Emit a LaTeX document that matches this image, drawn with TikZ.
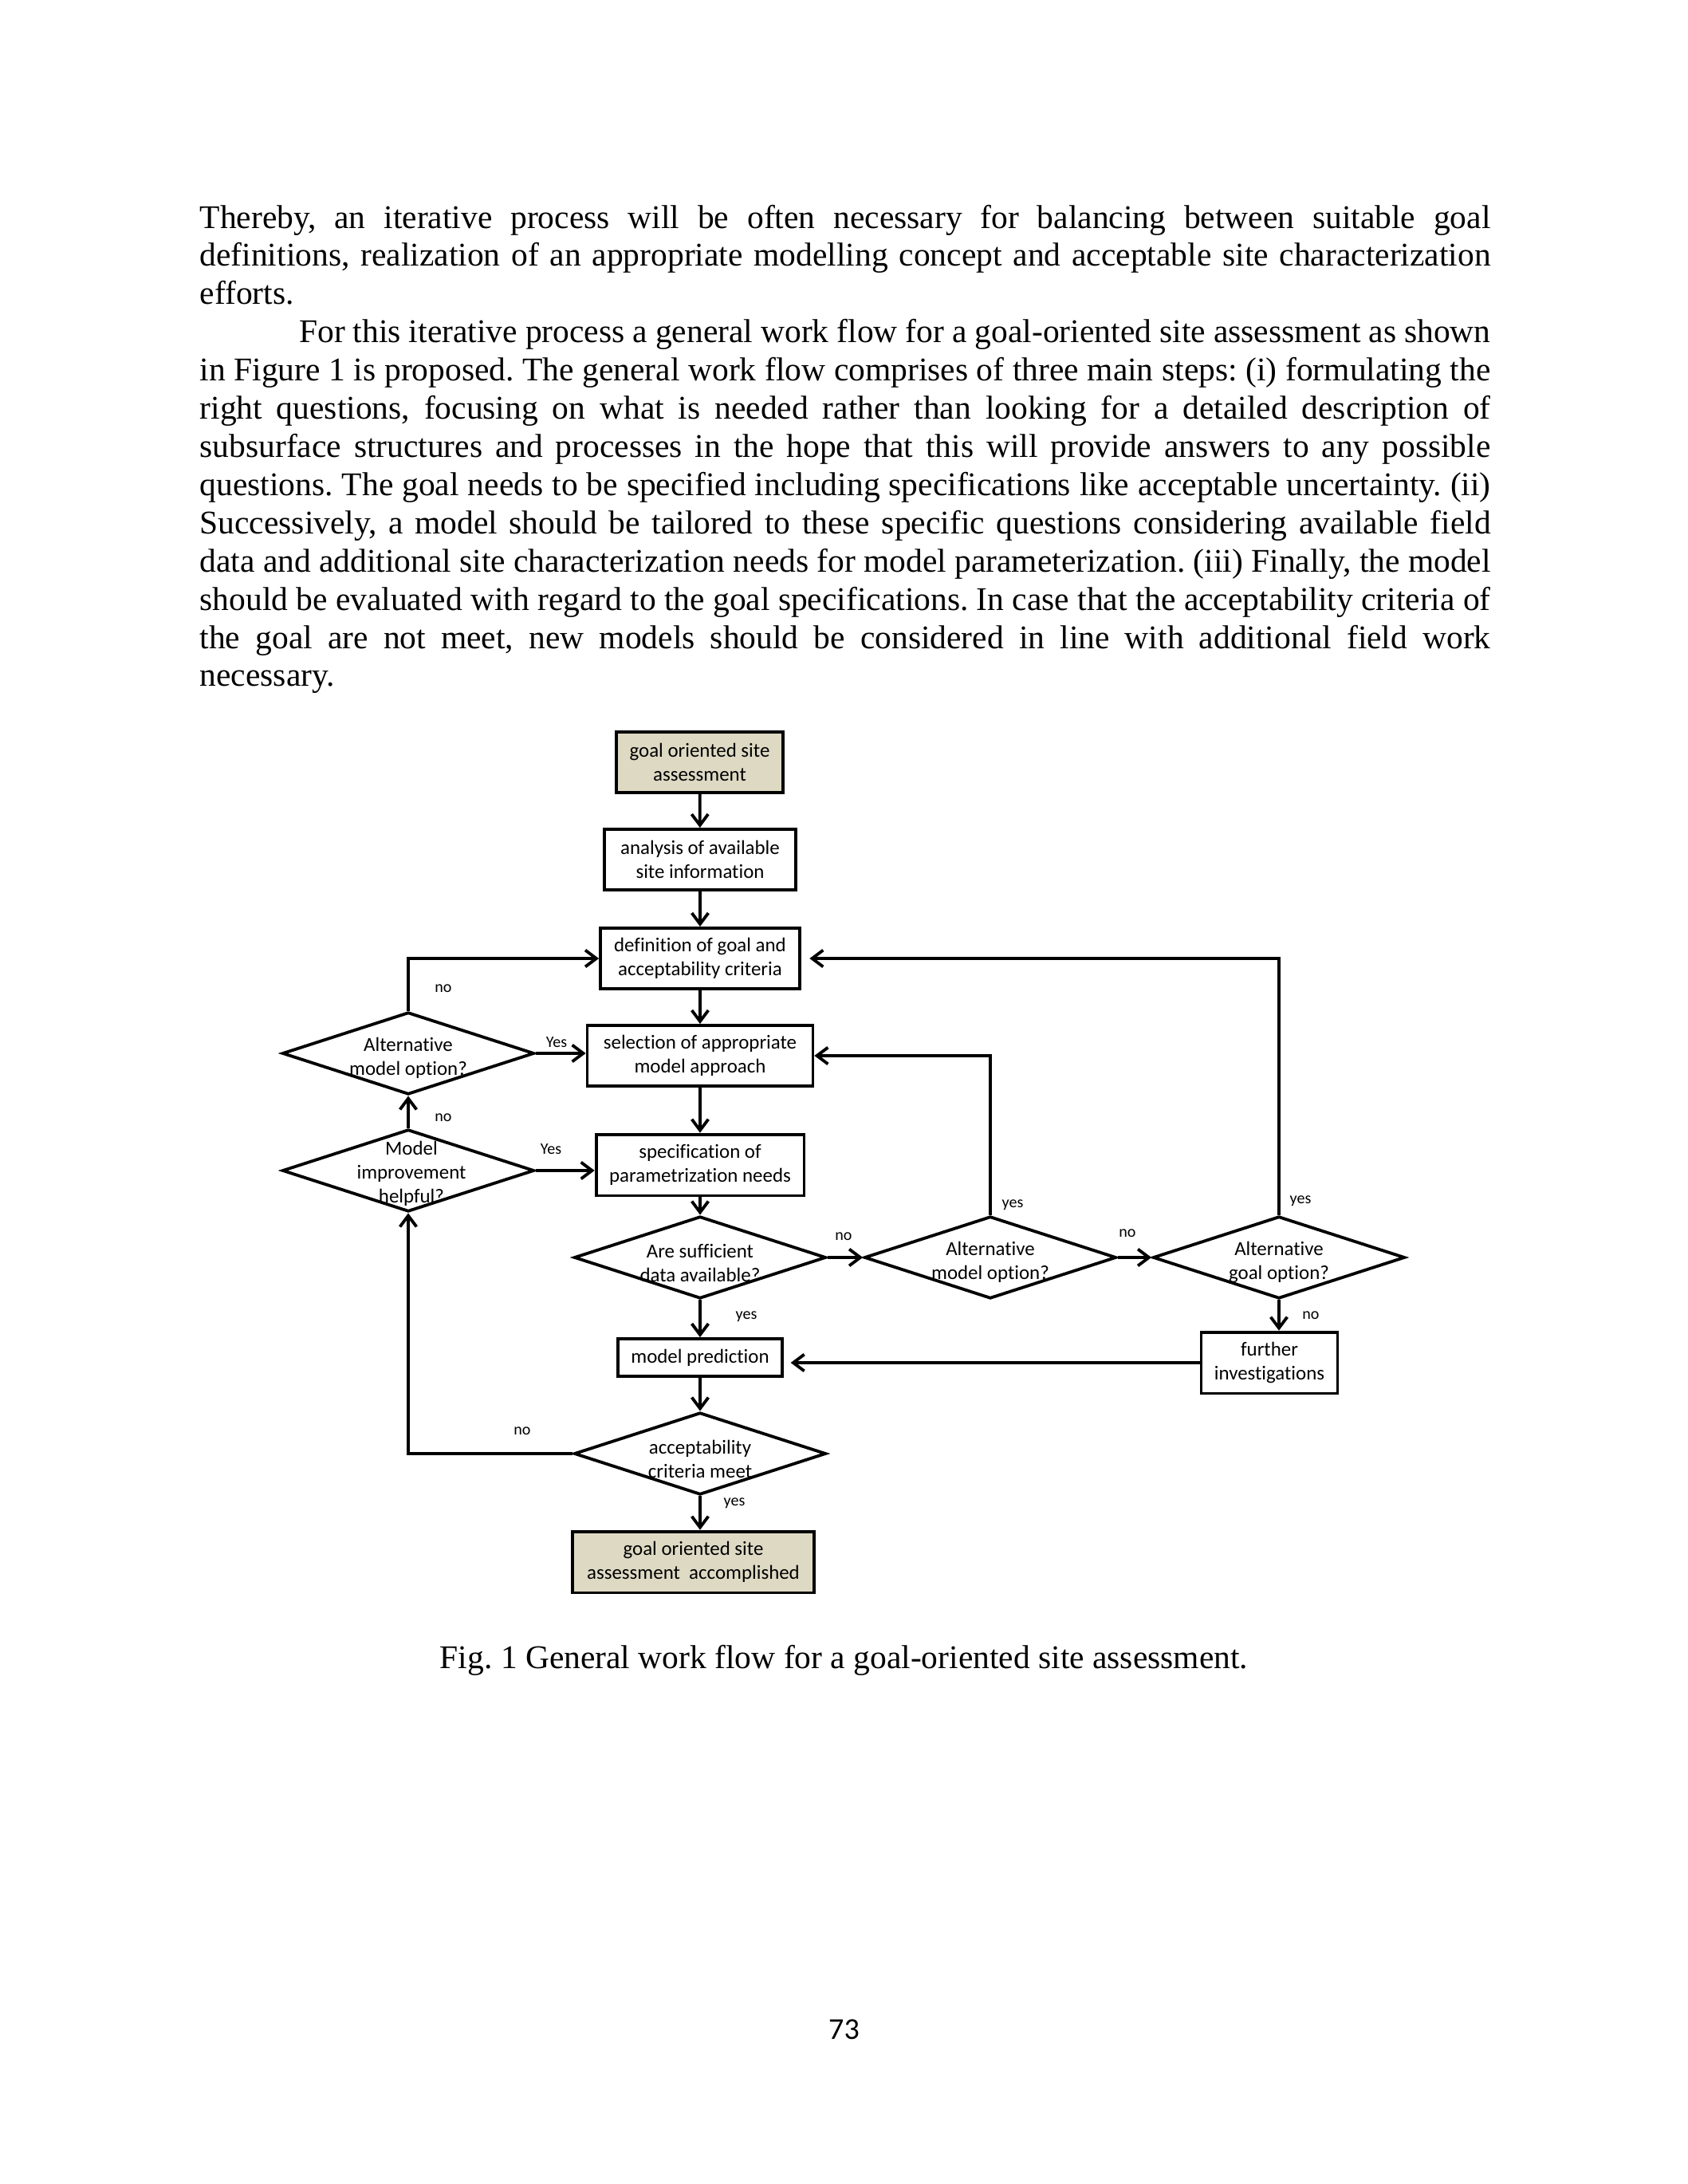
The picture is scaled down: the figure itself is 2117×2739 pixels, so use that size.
\documentclass[tikz,border=0pt]{standalone}
\usepackage{fontspec}
\setmainfont{Liberation Serif}
\newfontfamily\calfont[Ligatures=NoCommon]{Carlito}
\usetikzlibrary{shapes.geometric,arrows.meta}
\definecolor{tanfill}{HTML}{DDD9C3}
\frenchspacing
\begin{document}
\begin{tikzpicture}[x=0.28909pt,y=-0.28909pt,
  box/.style={draw, line width=1.1pt, inner sep=0, font=\calfont\fontsize{7.2}{8.8}\selectfont, align=center},
  dia/.style={draw, diamond, line width=1.1pt, inner sep=0, minimum width=91.35pt, minimum height=29.8pt},
  dtext/.style={font=\calfont\fontsize{7.2}{8.7}\selectfont, align=center, inner sep=0},
  lab/.style={font=\calfont\fontsize{5.8}{7}\selectfont, inner sep=0},
  arr/.style={line width=1.1pt, -{Straight Barb[length=4pt,width=6pt]}}]
\fill[white] (0,0) rectangle (2117,2739);
\path[use as bounding box] (0,0) rectangle (2117,2739);

% body text
\node[anchor=base west, inner sep=0, font=\fontsize{12}{13.85}\selectfont] (body) at (250,286) {\parbox[t]{468pt}{\baselineskip=13.85pt\parindent=0pt
\makebox[468pt][s]{Thereby, an iterative process will be often necessary for balancing between suitable goal}\\
\makebox[468pt][s]{definitions, realization of an appropriate modelling concept and acceptable site characterization}\\
efforts.\\
\hspace*{36pt}\makebox[432pt][s]{For this iterative process a general work flow for a goal-oriented site assessment as shown}\\
\makebox[468pt][s]{in Figure 1 is proposed. The general work flow comprises of three main steps: (i) formulating the}\\
\makebox[468pt][s]{right questions, focusing on what is needed rather than looking for a detailed description of}\\
\makebox[468pt][s]{subsurface structures and processes in the hope that this will provide answers to any possible}\\
\makebox[468pt][s]{questions. The goal needs to be specified including specifications like acceptable uncertainty. (ii)}\\
\makebox[468pt][s]{Successively, a model should be tailored to these specific questions considering available field}\\
\makebox[468pt][s]{data and additional site characterization needs for model parameterization. (iii) Finally, the model}\\
\makebox[468pt][s]{should be evaluated with regard to the goal specifications. In case that the acceptability criteria of}\\
\makebox[468pt][s]{the goal are not meet, new models should be considered in line with additional field work}\\
necessary.}};

% boxes
\node[box, fill=tanfill, minimum width=60.4pt, minimum height=22pt] (b1) at (877.5,956) {goal oriented site\\assessment};
\node[box, minimum width=69.4pt, minimum height=22pt] (b2) at (878,1078) {analysis of available\\site information};
\node[box, minimum width=72.3pt, minimum height=22pt] (b3) at (878,1202) {definition of goal and\\acceptability criteria};
\node[box, minimum width=81.8pt, minimum height=22pt] (b4) at (878,1324) {selection of appropriate\\model approach};
\node[box, minimum width=75.4pt, minimum height=22.2pt] (b5) at (878,1461) {specification of\\parametrization needs};
\node[box, minimum width=59.6pt, minimum height=13.6pt] (b6) at (878,1702.5) {model prediction};
\node[box, minimum width=49.4pt, minimum height=22.2pt] (b7) at (1592,1709) {further\\investigations};
\node[box, fill=tanfill, minimum width=87.6pt, minimum height=22.2pt] (b8) at (869.5,1959) {goal oriented site\\assessment\ \ accomplished};

% diamonds
\node[dia] (d5) at (512,1321) {};
\node[dia] (d6) at (512,1468) {};
\node[dia] (d1) at (878,1577) {};
\node[dia] (d2) at (1242,1577) {};
\node[dia] (d3) at (1604,1577) {};
\node[dia] (d4) at (878,1823) {};
\node[dtext] (d5t) at (512,1327) {Alternative\\model option?};
\node[dtext] (d6t) at (516,1472) {Model\\improvement\\helpful?};
\node[dtext] (d1t) at (878,1584) {Are sufficient\\data available?};
\node[dtext] (d2t) at (1242,1583) {Alternative\\model option?};
\node[dtext] (d3t) at (1604,1583) {Alternative\\goal option?};
\node[dtext] (d4t) at (878,1830) {acceptability\\criteria meet};

% connectors
\draw[arr] (b1) -- (b2);
\draw[arr] (b2) -- (b3);
\draw[arr] (b3) -- (b4);
\draw[arr] (b4) -- (b5);
\draw[arr] (b5) -- (d1);
\draw[arr] (d1) -- (b6);
\draw[arr] (b6) -- (d4);
\draw[arr] (d4.south) -- (d4.south |- b8.north);
\draw[arr] (d1.east) -- (d2.west);
\draw[arr] (d2.east) -- (d3.west);
\draw[arr] (d2.north) |- (b4.east);
\draw[arr, shorten >=3pt] (d3.north) |- (b3.east);
\draw[arr] (d3.south) -- (d3.south |- b7.north);
\draw[arr, shorten >=2.5pt] (b7.west) -- (b7.west -| b6.east);
\draw[arr] (d4.west) -| (d6.south);
\draw[arr] (d6.north) -- (d5.south);
\draw[arr] (d5.north) |- (b3.west);
\draw[arr] (d5.east) -- (d5.east -| b4.west);
\draw[arr] (d6.east) -- (d6.east -| b5.west);

% labels
\node[lab] (l1) at (556,1240) {no};
\node[lab] (l2) at (698,1307) {Yes};
\node[lab] (l3) at (556,1402) {no};
\node[lab] (l4) at (691,1441) {Yes};
\node[lab] (l5) at (1058,1551) {no};
\node[lab] (l6) at (1414,1547) {no};
\node[lab] (l7) at (1270,1511) {yes};
\node[lab] (l8) at (1631,1506) {yes};
\node[lab] (l9) at (936,1651) {yes};
\node[lab] (l10) at (1644,1650) {no};
\node[lab] (l11) at (655,1795) {no};
\node[lab] (l12) at (921,1885) {yes};

% caption and page number
\node[anchor=base, inner sep=0, font=\fontsize{12}{14}\selectfont] (cap) at (1058.5,2092) {Fig. 1 General work flow for a goal-oriented site assessment.};
\node[anchor=base, inner sep=0, font=\calfont\fontsize{11}{13}\selectfont] (pg) at (1058.5,2557) {73};
\end{tikzpicture}
\end{document}
